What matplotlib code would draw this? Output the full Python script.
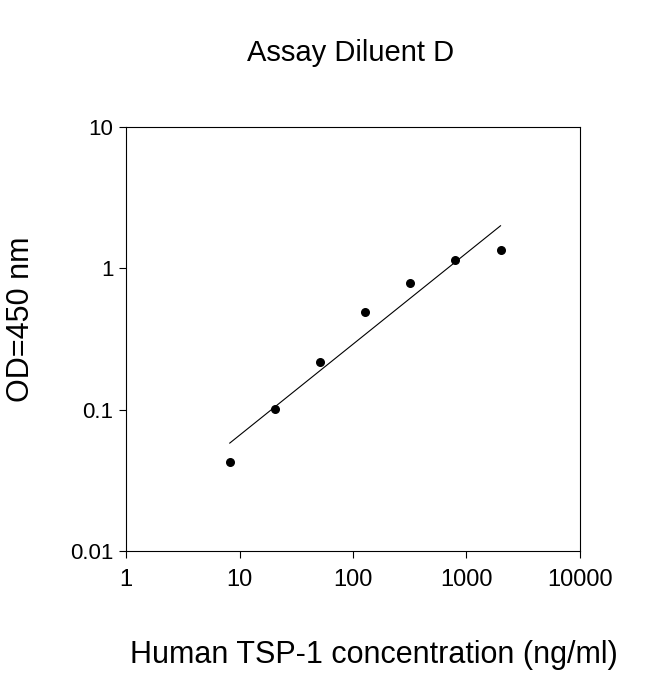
import matplotlib
matplotlib.use("Agg")
import matplotlib.pyplot as plt
from matplotlib.ticker import FixedLocator, NullLocator

conc = [8.2, 20.5, 51.2, 128, 320, 800, 2000]
od = [0.0426, 0.101, 0.217, 0.49, 0.787, 1.146, 1.35]
fit_x = [8.2, 2000]
fit_y = [0.058, 2.0]
xticks = [1, 10, 100, 1000, 10000]
yticks = [0.01, 0.1, 1, 10]
xlabels = ["1", "10", "100", "1000", "10000"]
ylabels = ["0.01", "0.1", "1", "10"]

plt.rcParams['font.family'] = ['Liberation Sans', 'DejaVu Sans']
fig = plt.figure(figsize=(6.5, 6.74), dpi=100)
ax = fig.add_axes([0.194, 0.1825, 0.698, 0.6291])
ax.plot(fit_x, fit_y, color='black', lw=0.8)
ax.scatter(conc, od, s=30, color='black', zorder=3)
ax.set_xscale('log'); ax.set_yscale('log')
ax.set_xlim(1, 10000); ax.set_ylim(0.01, 10)
ax.xaxis.set_major_locator(FixedLocator(xticks)); ax.xaxis.set_minor_locator(NullLocator())
ax.yaxis.set_major_locator(FixedLocator(yticks)); ax.yaxis.set_minor_locator(NullLocator())
ax.set_xticklabels(xlabels, fontsize=17); ax.set_yticklabels(ylabels, fontsize=16)
ax.tick_params(axis='x', direction='out', length=5, width=0.8, pad=8)
ax.tick_params(axis='y', direction='out', length=5, width=0.8, pad=4)
for s in ax.spines.values():
    s.set_linewidth(0.8)
fig.text(0.575, 0.028, "Human TSP-1 concentration (ng/ml)", fontsize=22, ha='center', va='center')
fig.text(0.033, 0.527, "OD=450 nm", fontsize=22, ha='center', va='center', rotation=90)
fig.text(0.54, 0.922, "Assay Diluent D", fontsize=21, ha='center', va='center')
fig.savefig("out.png", dpi=100)
